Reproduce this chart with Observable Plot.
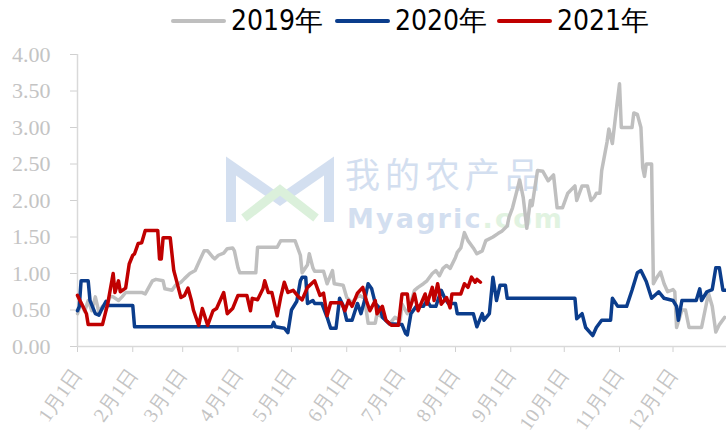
<!DOCTYPE html>
<html>
<head>
<meta charset="utf-8">
<script src="https://cdn.jsdelivr.net/npm/d3@7"></script>
<script src="https://cdn.jsdelivr.net/npm/@observablehq/plot@0.6"></script>
<style>
  body { margin: 0; background: #fff; width: 726px; height: 441px; overflow: hidden; position: relative; }
  #legend { height: 40px; position: relative; font-family: "Liberation Sans Narrow", "DejaVu Sans Condensed", "Liberation Sans", sans-serif; font-size: 28px; color: #000; }
  .item { position: absolute; top: 4px; display: flex; align-items: center; height: 34px; }
  .sw { width: 55px; height: 4px; margin-right: 5px; border-radius: 2px; }
  #wm { position: absolute; left: 0; top: 0; width: 726px; height: 441px; z-index: 0; pointer-events: none; }
  #chart { position: relative; z-index: 1; }
</style>
</head>
<body>
<div id="wm">
  <svg width="726" height="441">
    <g opacity="0.5">
      <path d="M231,222 L231,166 L280,200 L329,166 L329,222" fill="none" stroke="#a9c0e2" stroke-width="10"/>
      <path d="M244,218 L280,190 L316,218" fill="none" stroke="#b8e3b8" stroke-width="9"/>
      <text x="345" y="188" font-family="Noto Sans CJK SC" font-size="35" fill="#a9c0e2" textLength="195">我的农产品</text>
      <text x="347" y="228" font-family="DejaVu Sans, sans-serif" font-weight="bold" font-size="27" fill="#a9c0e2" textLength="215">Myagric<tspan fill="#c4e8c4">.com</tspan></text>
    </g>
  </svg>
</div>
<div id="legend"></div>
<div id="chart"></div>
<script>
const seriesNames = ["2019年", "2020年", "2021年"];
const seriesColors = ["#bfbfbf", "#0b3d8c", "#c00000"];

// day of year -> value
const days2019 = [1,3,5,7,9,11,13,15,17,19,21,24,26,28,37,39,43,45,49,50,54,56,59,61,64,67,69,72,74,77,78,80,83,85,88,89,91,92,101,102,113,115,123,126,127,130,131,133,134,139,141,144,145,150,152,155,157,159,162,164,168,169,172,176,179,182,183,186,190,192,195,197,200,202,204,206,208,210,213,214,216,218,220,223,225,228,230,234,237,239,242,243,245,247,249,251,253,255,256,259,262,265,268,270,273,276,280,281,284,287,289,291,292,294,295,298,299,301,303,305,306,312,313,315,317,318,319,320,323,324,326,328,330,332,335,336,337,340,342,344,351,354,355,357,359,361,364];
const vals2019 = [0.45,0.60,0.48,0.63,0.49,0.68,0.47,0.55,0.50,0.68,0.68,0.63,0.68,0.74,0.74,0.72,0.90,0.92,0.90,0.79,0.77,0.84,0.88,0.93,1.00,1.04,1.15,1.31,1.31,1.22,1.20,1.25,1.28,1.34,1.35,1.31,1.08,1.01,1.01,1.36,1.36,1.45,1.45,1.25,1.01,1.12,1.27,1.08,1.03,1.03,0.86,1.04,0.86,0.84,0.67,0.60,0.66,0.70,0.66,0.32,0.32,0.45,0.40,0.31,0.40,0.36,0.58,0.45,0.77,0.81,0.86,0.90,1.00,1.04,0.97,1.07,1.11,1.07,1.22,1.29,1.35,1.56,1.45,1.35,1.27,1.31,1.45,1.50,1.55,1.58,1.65,1.77,1.90,2.09,2.28,2.04,1.62,2.00,1.93,2.41,2.40,2.27,2.35,1.90,1.90,2.10,2.20,2.00,2.20,2.20,2.00,2.05,2.10,2.10,2.41,2.80,2.98,2.78,3.20,3.60,3.00,3.00,3.20,3.18,3.00,2.45,2.33,2.50,2.50,0.86,0.95,1.02,0.86,0.75,0.78,0.75,0.26,0.50,0.50,0.26,0.26,0.62,0.72,0.55,0.20,0.30,0.40];

const days2020 = [1,2,3,7,8,9,11,13,15,17,18,32,33,110,111,112,117,119,121,124,126,127,129,130,133,134,138,141,143,146,148,150,152,155,158,160,162,164,166,168,171,172,176,183,185,186,188,191,195,197,199,202,205,207,209,213,214,223,225,228,229,232,234,236,238,241,242,280,281,284,286,290,292,295,300,301,304,309,312,315,317,320,323,327,330,335,337,338,340,348,350,351,354,357,359,361,363,365];
const vals2020 = [0.49,0.55,0.90,0.90,0.63,0.57,0.45,0.43,0.53,0.62,0.56,0.56,0.27,0.27,0.33,0.27,0.25,0.19,0.50,0.62,0.90,0.95,0.95,0.59,0.63,0.59,0.59,0.40,0.25,0.25,0.66,0.56,0.36,0.36,0.59,0.45,0.63,0.86,0.79,0.59,0.51,0.40,0.31,0.30,0.18,0.16,0.45,0.55,0.55,0.63,0.55,0.55,0.77,0.66,0.59,0.59,0.45,0.45,0.27,0.45,0.36,0.45,0.95,0.63,0.84,0.84,0.66,0.66,0.38,0.45,0.26,0.15,0.26,0.36,0.36,0.66,0.55,0.55,0.77,1.01,1.04,0.89,0.66,0.75,0.66,0.63,0.55,0.36,0.63,0.63,0.79,0.63,0.75,0.78,1.08,1.08,0.77,0.77];

const days2021 = [1,3,4,6,7,15,18,21,22,24,25,28,30,32,33,35,37,39,46,47,48,49,53,55,56,59,61,63,65,66,69,71,74,77,79,83,85,88,91,96,98,99,102,105,106,108,110,113,115,117,119,122,125,127,130,134,137,139,141,143,149,151,153,155,158,161,163,165,168,169,172,174,177,181,183,186,187,190,192,196,197,200,201,203,205,208,210,211,216,218,220,222,224,225,227];
const vals2021 = [0.70,0.60,0.55,0.45,0.30,0.30,0.59,1.00,0.74,0.90,0.75,0.80,1.13,1.25,1.27,1.41,1.42,1.59,1.59,1.20,1.20,1.49,1.49,1.04,0.95,0.67,0.70,0.80,0.62,0.50,0.29,0.52,0.29,0.49,0.52,0.74,0.45,0.52,0.70,0.70,0.49,0.66,0.64,0.79,0.90,0.74,0.74,0.42,0.68,0.88,0.74,0.77,0.68,0.64,0.81,0.90,0.70,0.73,0.42,0.60,0.60,0.49,0.63,0.55,0.73,0.81,0.63,0.49,0.63,0.45,0.55,0.36,0.29,0.29,0.72,0.72,0.49,0.72,0.49,0.72,0.58,0.81,0.63,0.86,0.58,0.67,0.53,0.72,0.72,0.86,0.81,0.95,0.88,0.92,0.88];

const yTicks = [0, 0.5, 1, 1.5, 2, 2.5, 3, 3.5, 4];
const monthNumbers = [1,2,3,4,5,6,7,8,9,10,11,12];

const dayToDate = d => new Date(Date.UTC(2021, 0, d));
const rows = [];
[[days2019, vals2019], [days2020, vals2020], [days2021, vals2021]].forEach(([ds, vs], i) => {
  const n = Math.min(ds.length, vs.length);
  for (let k = 0; k < n; k++) rows.push({date: dayToDate(ds[k]), value: vs[k], series: seriesNames[i]});
});

// legend
const legend = document.getElementById("legend");
const lefts = [171, 335, 497];
seriesNames.forEach((s, i) => {
  const it = document.createElement("div");
  it.className = "item";
  it.style.left = lefts[i] + "px";
  it.innerHTML = `<div class="sw" style="background:${seriesColors[i]}"></div><span>${s}</span>`;
  legend.appendChild(it);
});

const monthTicks = monthNumbers.map(m => new Date(Date.UTC(2021, m - 1, 1)));

const chart = Plot.plot({
  width: 726,
  height: 401,
  marginLeft: 77,
  marginRight: 0,
  marginTop: 14,
  marginBottom: 95,
  style: {background: "transparent", fontFamily: "Liberation Serif, serif", color: "#c4c4c4"},
  x: {type: "utc", domain: [dayToDate(1), dayToDate(365)]},
  y: {domain: [0, 4]},
  color: {domain: seriesNames, range: seriesColors},
  marks: [
    Plot.axisY({ticks: yTicks, tickFormat: d3.format(".2f"), tickSize: 7, tickPadding: 20, fontSize: 22, label: null, stroke: "#d0d0d0"}),
    Plot.axisX({ticks: monthTicks, tickFormat: d => `${d.getUTCMonth() + 1}月1日`, tickSize: 6, tickPadding: 18, tickRotate: -55, fontSize: 20, label: null, stroke: "#d0d0d0"}),
    Plot.ruleX([dayToDate(1)], {stroke: "#d9d9d9", strokeWidth: 1.5}),
    Plot.ruleY([0], {stroke: "#d9d9d9", strokeWidth: 1.5}),
    Plot.line(rows, {x: "date", y: "value", z: "series", stroke: "series", strokeWidth: 3.5, strokeLinejoin: "round", strokeLinecap: "round"})
  ]
});
document.getElementById("chart").appendChild(chart);
</script>
</body>
</html>
